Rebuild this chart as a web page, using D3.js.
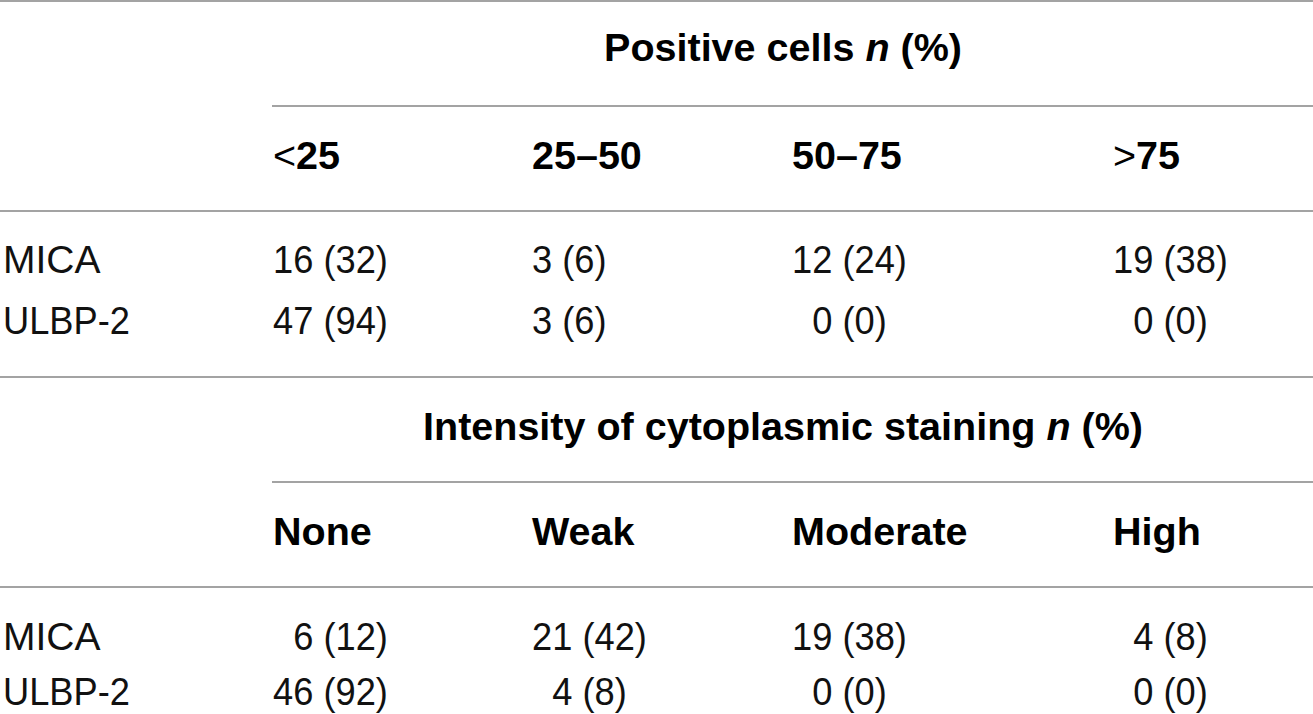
<!DOCTYPE html>
<html><head><meta charset="utf-8">
<script src="https://cdn.jsdelivr.net/npm/d3@7/dist/d3.min.js"></script>
<style>html,body{margin:0;padding:0;background:#fff;overflow:hidden}</style>
</head><body>
<svg id="chart" width="1313" height="714"></svg>
<script>
// ---------- data ----------
const rowLabels = ["MICA", "ULBP-2"];
const block1Title = "Positive cells";
const block1Headers = ["<25", "25–50", "50–75", ">75"];
const micaPositiveN   = [16, 3, 12, 19];
const micaPositivePct = [32, 6, 24, 38];
const ulbpPositiveN   = [47, 3, 0, 0];
const ulbpPositivePct = [94, 6, 0, 0];

const block2Title = "Intensity of cytoplasmic staining";
const block2Headers = ["None", "Weak", "Moderate", "High"];
const micaIntensityN   = [6, 21, 19, 4];
const micaIntensityPct = [12, 42, 38, 8];
const ulbpIntensityN   = [46, 4, 0, 0];
const ulbpIntensityPct = [92, 8, 0, 0];

// ---------- layout ----------
const W = 1313, H = 714;
const svg = d3.select("#chart");
const colIdx = [0, 1, 2, 3];
const xCol = d3.scaleOrdinal().domain(colIdx).range([273, 532, 792, 1113]);
const titleCenter = 783;
const lineColor = "#a3a3a3";
const regFont = "'Liberation Sans', Arial, sans-serif";
const boldFont = "'Liberation Sans', Arial, sans-serif";
const regSize = 39, boldSize = 39.5, squeeze = 0.93;

const blocks = [
  { title: block1Title, headers: block1Headers,
    rows: [[micaPositiveN, micaPositivePct], [ulbpPositiveN, ulbpPositivePct]],
    align: [2, 1, 2, 2],
    yTitle: 61, yHead: 169, yRows: [273, 334],
    lines: [[0, 1], [272, 106], [0, 211]] },
  { title: block2Title, headers: block2Headers,
    rows: [[micaIntensityN, micaIntensityPct], [ulbpIntensityN, ulbpIntensityPct]],
    align: [2, 2, 2, 2],
    yTitle: 440, yHead: 545, yRows: [650, 705],
    lines: [[0, 377], [272, 482], [0, 587]] }
];

// measure digit width of the regular font
const probe = svg.append("text").attr("font-family", regFont).attr("font-size", regSize).text("00");
const digitW = probe.node().getComputedTextLength() / 2 * squeeze;
probe.remove();

function regText(g, x, y, str, sx) {
  return g.append("text")
    .attr("transform", `translate(${x},${y}) scale(${sx},1)`)
    .attr("font-family", regFont).attr("font-size", regSize).attr("fill", "#111")
    .text(str);
}

blocks.forEach(b => {
  // rules
  svg.append("g").selectAll("line").data(b.lines).join("line")
    .attr("x1", d => d[0]).attr("x2", W)
    .attr("y1", d => d[1]).attr("y2", d => d[1])
    .attr("stroke", lineColor).attr("stroke-width", 2);

  // title
  const t = svg.append("text")
    .attr("x", titleCenter).attr("y", b.yTitle)
    .attr("text-anchor", "middle")
    .attr("font-family", boldFont).attr("font-size", boldSize).attr("font-weight", "bold")
    .attr("fill", "#000");
  t.append("tspan").text(b.title + " ");
  t.append("tspan").attr("font-style", "italic").text("n");
  t.append("tspan").text(" (%)");

  // column headers
  const hg = svg.append("g").selectAll("text").data(b.headers).join("text")
    .attr("x", (d, i) => xCol(i)).attr("y", b.yHead)
    .attr("font-family", boldFont).attr("font-size", boldSize).attr("font-weight", "bold")
    .attr("fill", "#000");
  hg.each(function(d) {
    const el = d3.select(this);
    if (d[0] === "<" || d[0] === ">") {
      el.append("tspan").attr("font-weight", "normal").text(d[0]);
      el.append("tspan").text(d.slice(1));
    } else {
      el.text(d);
    }
  });

  // rows
  b.rows.forEach((r, ri) => {
    const y = b.yRows[ri];
    const g = svg.append("g");
    regText(g, 3, y, rowLabels[ri], ri === 0 ? 1 : squeeze);
    colIdx.forEach(c => {
      const n = r[0][c], p = r[1][c];
      const x = xCol(c) + (b.align[c] - String(n).length) * digitW;
      regText(g, x, y, `${n} (${p})`, squeeze);
    });
  });
});
</script>
</body></html>
